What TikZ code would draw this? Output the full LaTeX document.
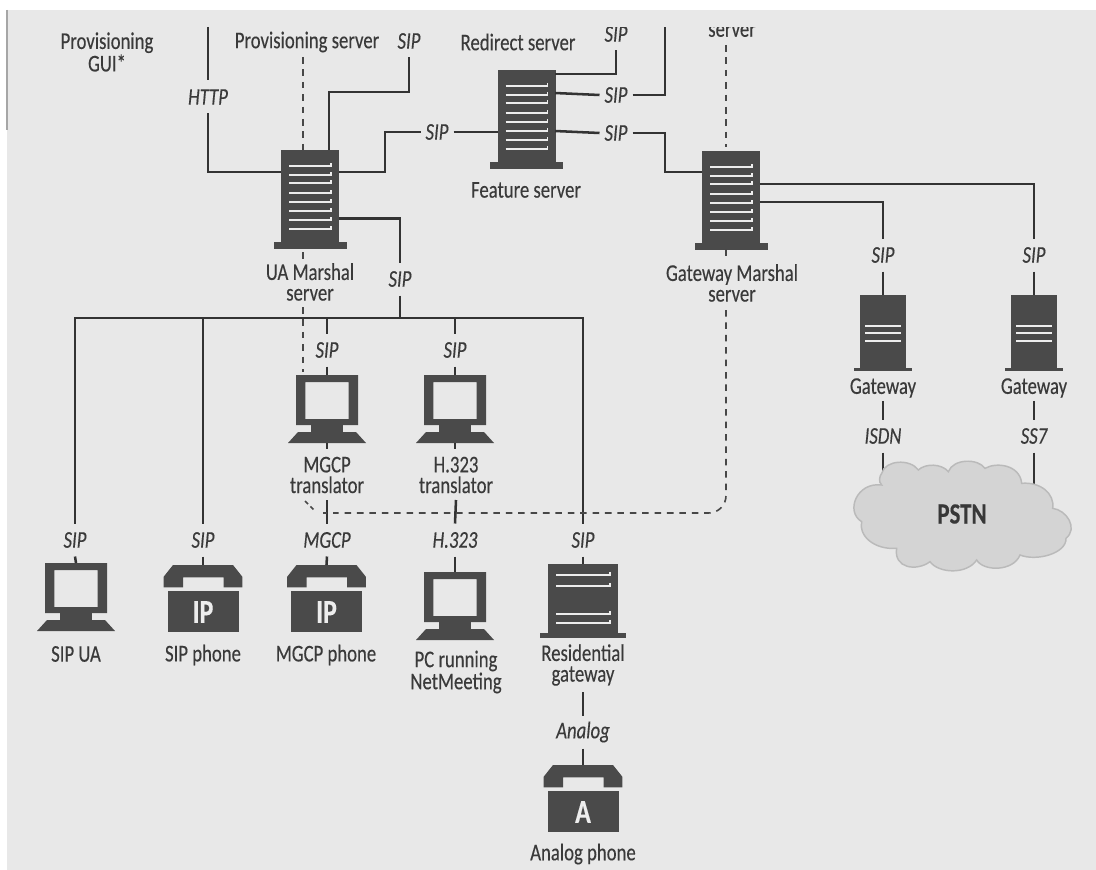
\documentclass[tikz,border=0pt]{standalone}
\usepackage{fontspec}
\setmainfont[FakeStretch=0.78,FakeBold=0.25]{Carlito}
\usetikzlibrary{calc}
\definecolor{paper}{HTML}{E8E8E8}
\definecolor{ink}{HTML}{4A4A4A}
\definecolor{wire}{HTML}{333333}
\definecolor{txt}{HTML}{3A3A3A}
\definecolor{slot}{HTML}{EDEDED}
\tikzset{
  conn/.style={draw=wire,line width=1.9pt},
  thin conn/.style={draw=wire,line width=1.5pt},
  dashline/.style={draw=wire!90,line width=1.2pt,dash pattern=on 4.9pt off 4.4pt},
  lbl/.style={text=txt,font=\fontsize{18}{15.5}\selectfont,align=center,inner sep=0pt},
  proto/.style={text=txt,font=\fontsize{18}{15.5}\selectfont\itshape,inner sep=0pt,minimum width=24.75pt,minimum height=24.75pt,outer sep=0pt},
  anchorbox/.style={inner sep=0pt,outer sep=0pt,anchor=north,rectangle},
  slotline/.style={draw=slot,line width=1.2pt}
}
% big server: name, centre x, top y
\newcommand{\bigserver}[3]{%
  \begin{scope}[shift={(#2,#3)}]
    \fill[ink] (-29,0) rectangle (29,92);
    \fill[ink] (-36.5,92) rectangle (36.5,99);
    \foreach \yy in {16,25,33,43,52,61,70,79}{\draw[slotline] (-21,\yy) -- (21,\yy) -- (21,\yy-3);}
  \end{scope}
  \node[anchorbox,minimum width=43.5pt,minimum height=74.25pt] (#1) at (#2,#3) {};}
% small gateway
\newcommand{\gwbox}[3]{%
  \begin{scope}[shift={(#2,#3)}]
    \fill[ink] (-23,0) rectangle (23,73);
    \fill[ink] (-29,73) rectangle (29,76);
    \foreach \yy in {31,38,46}{\draw[slotline] (-18,\yy) -- (18,\yy);}
  \end{scope}
  \node[anchorbox,minimum width=34.5pt,minimum height=57pt] (#1) at (#2,#3) {};}
% monitor
\newcommand{\monitor}[3]{%
  \begin{scope}[shift={(#2,#3)}]
    \fill[ink,even odd rule] (-31,0) rectangle (31,50) (-21.7,7) rectangle (21.7,44);
    \fill[ink] (-16,50) rectangle (16,58);
    \fill[ink] (-29,57) -- (29,57) -- (39,68) -- (-39,68) -- cycle;
  \end{scope}
  \node[anchorbox,minimum width=46.5pt,minimum height=51pt] (#1) at (#2,#3) {};}
% phone: name, cx, top, letter
\newcommand{\phoneicon}[4]{%
  \begin{scope}[shift={(#2,#3)}]
    \fill[ink] (-39.3,11.7) -- (-30,0) -- (30,0) -- (39.3,11.7) -- (39.3,22.3) -- (20.7,22.3) -- (20.7,12.3) -- (-20,12.3) -- (-20,22.3) -- (-39.3,22.3) -- cycle;
    \fill[ink] (-35.5,26) rectangle (35.5,67);
    \node[text=slot,font=\fontsize{25}{25}\selectfont\bfseries,inner sep=0pt] at (0,47) {#4};
  \end{scope}
  \node[anchorbox,minimum width=59pt,minimum height=50pt] (#1) at (#2,#3) {};}
\begin{document}
\begin{tikzpicture}[x=0.75pt,y=-0.75pt]
\useasboundingbox (0,0) rectangle (1096,870);
\fill[white] (0,0) rectangle (1096,870);
\fill[paper] (7,10) rectangle (1096,870);
\draw[gray!70,line width=0.8pt] (7,10) -- (7,130);

% ---- icons
\bigserver{ua}{310}{150}
\bigserver{fs}{526.5}{70}
\bigserver{gm}{731}{151}
\gwbox{gwa}{883}{295}
\gwbox{gwb}{1034}{295}
\monitor{mt}{327}{375}
\monitor{ht}{455}{375}
\monitor{sipua}{76}{563}
\phoneicon{sipph}{203}{565}{IP}
\phoneicon{mgph}{326.5}{565}{IP}
\monitor{pc}{455}{572}
\phoneicon{anph}{583}{765}{A}
% residential gateway
\begin{scope}[shift={(583,564)}]
  \fill[ink] (-35,0) rectangle (35,69);
  \fill[ink] (-43,69) rectangle (43,74);
  \foreach \yy in {11,22,50,59}{\draw[slotline] (-27,\yy) -- (27,\yy) -- (27,\yy-3);}
\end{scope}
\node[anchorbox,minimum width=52.5pt,minimum height=55.5pt] (rg) at (583,564) {};

% ---- device and server labels
\node[lbl] (lprovgui) at (107,52) {Provisioning\\GUI*};
\node[lbl] (lprovsrv) at (307,42) {Provisioning server};
\node[lbl] (lredir) at (518,42) {Redirect server};
\node[lbl] (lfeat) at (526,190) {Feature server};
\node[lbl,minimum width=80pt,minimum height=30pt] (lua) at (310,282) {UA Marshal\\server};
\node[lbl,minimum width=100pt,minimum height=30pt] (lgm) at (732,283) {Gateway Marshal\\server};
\node[lbl] (lsrvtop) at (732,31) {server};
\node[lbl] (lgwa) at (883,388) {Gateway};
\node[lbl] (lgwb) at (1034,388) {Gateway};
\node[lbl] (lmt) at (327,475) {MGCP\\translator};
\node[lbl] (lht) at (456,475) {H.323\\translator};
\node[lbl] (lsipua) at (76,654) {SIP UA};
\node[lbl] (lsipph) at (203,655) {SIP phone};
\node[lbl] (lmgph) at (326,655) {MGCP phone};
\node[lbl] (lpc) at (456,672) {PC running\\NetMeeting};
\node[lbl] (lrg) at (583,665) {Residential\\gateway};
\node[lbl] (lanph) at (583,854) {Analog phone};

% ---- protocol labels
\node[proto] (pHTTP) at (208,97) {HTTP};
\node[proto] (pS1) at (409,41) {SIP};
\node[proto] (pS2) at (437,132) {SIP};
\node[proto] (pS3) at (616,34) {SIP};
\node[proto] (pS4) at (616,95) {SIP};
\node[proto] (pS5) at (616,133) {SIP};
\node[proto] (pS6) at (400,279) {SIP};
\node[proto] (pS7) at (327,350) {SIP};
\node[proto] (pS8) at (455,350) {SIP};
\node[proto] (pS9) at (883,255) {SIP};
\node[proto] (pS10) at (1034,255) {SIP};
\node[proto] (pISDN) at (883,436) {ISDN};
\node[proto] (pSS7) at (1034,436) {SS7};
\node[proto] (pA) at (75,540) {SIP};
\node[proto] (pB) at (203,540) {SIP};
\node[proto] (pC) at (327,540) {MGCP};
\node[proto] (pD) at (455,540) {H.323};
\node[proto] (pE) at (583,540) {SIP};
\node[proto] (pAn) at (583,732) {Analog};

% ---- named attachment points
\coordinate (httpTop) at (208,27);
\coordinate (uaW) at (281,172);
\coordinate (uaN) at (329,150);
\coordinate (uaE) at (339,172);
\coordinate (uaE2) at (339,218.5);
\coordinate (b1) at (329,92);
\coordinate (b2) at (385,172);
\coordinate (b3) at (385,132);
\coordinate (fsW) at (498,132);
\coordinate (fsE1) at (555,74);
\coordinate (fsE2) at (555,93);
\coordinate (fsE3) at (555,131);
\coordinate (topR) at (665,27);
\coordinate (gmW) at (702,172);
\coordinate (gmE1) at (760,184);
\coordinate (gmE2) at (760,202);
\coordinate (busL) at (75,318);
\coordinate (busR) at (583,318);
\coordinate (busB) at (203,318);
\coordinate (busM) at (327,318);
\coordinate (busH) at (455,318);
\coordinate (busS) at (400,318);
\coordinate (cloudA) at (883,475);
\coordinate (cloudB) at (1034,485);

% ---- solid connectors
\draw[conn] (httpTop) -- (pHTTP.north);
\draw[conn] (pHTTP.south) |- (uaW);
\draw[conn] (pS1.south) |- (b1) -- (uaN);
\draw[conn] (uaE) -- (b2) -- (b3) -- (pS2.west);
\draw[conn] (pS2.east) -- (fsW);
\draw[conn] (fsE1) -| (pS3.south);
\draw[conn] (fsE2) -- (pS4.west);
\draw[conn] (pS4.east) -| (topR);
\draw[conn] (fsE3) -- (pS5.west);
\draw[conn] (pS5.east) -- (pS5.east -| topR) |- (gmW);
\draw[conn] (gmE1) -| (pS10.north);
\draw[conn] (gmE2) -| (pS9.north);
\draw[conn] (pS9.south) -- (gwa.north);
\draw[conn] (pS10.south) -- (gwb.north);
\draw[conn] (lgwa.south) ++(0,3) -- (pISDN.north);
\draw[conn] (lgwb.south) ++(0,3) -- (pSS7.north);
\draw[conn] (pISDN.south) -- (cloudA);
\draw[conn] (pSS7.south) -- (cloudB);
\draw[conn] (uaE2) -| (pS6.north);
\draw[conn] (pS6.south) -- (busS);
\draw[thin conn] (pA.north) |- (busR) -- (pE.north);
\draw[thin conn] (busB) -- (pB.north);
\draw[conn] (busM) -- (pS7.north);
\draw[conn] (busH) -- (pS8.north);
\draw[conn] (pS7.south) -- (mt.north);
\draw[conn] (pS8.south) -- (ht.north);
\draw[conn] (pA.south) -- (sipua.north);
\draw[conn] (pB.south) -- (sipph.north);
\draw[conn] (pC.south) -- (mgph.north);
\draw[conn] (pD.south) -- (pc.north);
\draw[conn] (pE.south) -- (rg.north);
\draw[conn] (mt.south) -- ++(0,6);
\draw[conn] (ht.south) -- ++(0,6);
\coordinate (mtC) at (327,500);
\coordinate (htC) at (456,500);
\coordinate (rgC) at (583,692);
\draw[conn] (mtC) -- (pC.north);
\draw[conn] (htC) -- (pD.north);
\draw[conn] (rgC) -- (pAn.north);
\draw[conn] (pAn.south) -- (anph.north);

% ---- dashed connectors
\coordinate (dUAtop) at (303,57);
\coordinate (dUAn) at (303,150);
\coordinate (dUAb) at (303,252);
\coordinate (dUAb2) at (303,261);
\coordinate (dUAc) at (303,307);
\coordinate (dUAd) at (303,372);
\coordinate (dGMtop) at (726,45);
\coordinate (dGMn) at (726,147);
\coordinate (dGMb) at (726,249);
\coordinate (dGMb2) at (726,258);
\coordinate (dGMc) at (726,310);
\coordinate (dCorner) at (726,513);
\coordinate (dH) at (333,513);
\coordinate (dS) at (323,513);
\coordinate (dSm) at (327,513);
\coordinate (dD1) at (305,501);
\coordinate (dD2) at (315,511);
\draw[dashline] (dUAtop) -- (dUAn);
\draw[dashline] (dUAb) -- (dUAb2);
\draw[dashline] (dUAc) -- (dUAd);
\draw[dashline] (dGMtop) -- (dGMn);
\draw[dashline] (dGMb) -- (dGMb2);
\draw[dashline,rounded corners=13pt] (dGMc) -- (dCorner) -- (dH);
\draw[draw=wire!90,line width=1.1pt] (dS) -- (dSm);
\draw[draw=wire!90,line width=1.1pt,dash pattern=on 3.2pt off 2.6pt] (dD1) -- (dD2);

% ---- cloud
\begin{scope}[shift={(850,440)},x=.25pt,y=-.25pt]
\draw[fill=black!17,draw=black!27,line width=1.1pt]
 (95,100) .. controls (105,60) and (180,55) .. (205,90)
 .. controls (225,70) and (275,70) .. (295,95)
 .. controls (310,55) and (385,55) .. (405,85)
 .. controls (440,65) and (510,75) .. (515,130)
 .. controls (570,125) and (615,160) .. (608,205)
 .. controls (650,210) and (685,265) .. (648,295)
 .. controls (650,340) and (560,365) .. (510,345)
 .. controls (490,395) and (400,395) .. (380,360)
 .. controls (350,405) and (265,400) .. (240,365)
 .. controls (200,395) and (130,385) .. (140,325)
 .. controls (70,330) and (25,285) .. (35,245)
 .. controls (-15,215) and (20,125) .. (95,135)
 .. controls (85,125) and (88,110) .. (95,100) -- cycle;
\end{scope}
\node[text=black!78,font=\fontsize{22}{22}\selectfont\bfseries,inner sep=0pt] (pstn) at (962,514) {PSTN};

% ---- the scan cuts off the top of two labels
\fill[paper] (590,11) rectangle (655,27.5);
\fill[paper] (680,11) rectangle (790,27.5);
\end{tikzpicture}
\end{document}
